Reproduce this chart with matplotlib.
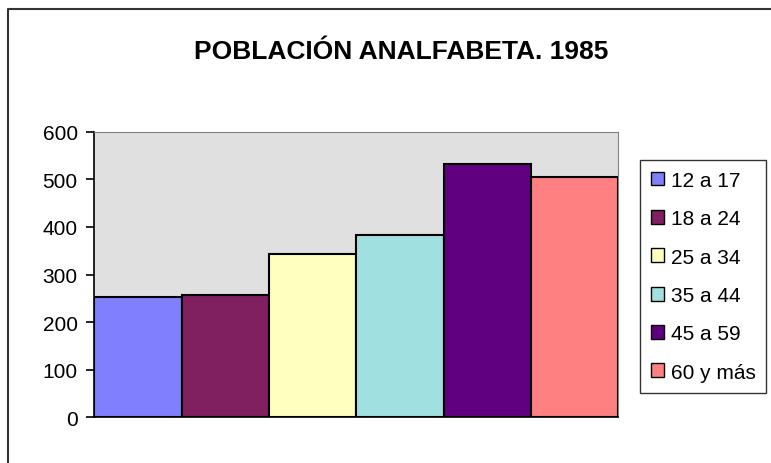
import matplotlib.pyplot as plt
from matplotlib.lines import Line2D
from matplotlib.patches import Patch

plt.rcParams['font.family'] = ['Liberation Sans', 'DejaVu Sans']

grupos = ['12 a 17', '18 a 24', '25 a 34', '35 a 44', '45 a 59', '60 y más']
valores = [252, 256, 344, 382, 533, 504]
colores = ['#8080FF', '#802060', '#FFFFC0', '#A0E0E0', '#600080', '#FF8080']
yticks = [0, 100, 200, 300, 400, 500, 600]

fig = plt.figure(figsize=(7.71, 4.64), dpi=100)
ax = fig.add_axes([94.3 / 771, 1 - 418.3 / 464, 524 / 771, 285.6 / 464])
ax.set_facecolor('#E0E0E0')

xs = range(len(grupos))
ax.bar(xs, valores, width=1.0, color=colores, edgecolor='black', linewidth=1.5, zorder=3)

ax.set_xlim(-0.5, len(grupos) - 0.5)
ax.set_ylim(0, 600)
ax.set_yticks(yticks)
ax.set_yticklabels([str(t) for t in yticks], fontsize=15)
ax.set_xticks([])
ax.tick_params(axis='y', direction='out', length=6, width=1.2, pad=6, color='black')

ax.spines['left'].set_color('black')
ax.spines['left'].set_linewidth(1.2)
ax.spines['bottom'].set_color('black')
ax.spines['bottom'].set_linewidth(1.2)
ax.spines['top'].set_color('#808080')
ax.spines['right'].set_color('#808080')

fig.text(401 / 771, 1 - 52 / 464, 'POBLACIÓN ANALFABETA. 1985', ha='center', va='center',
         fontsize=19, fontweight='bold')

handles = [Patch(facecolor=c, edgecolor='black', linewidth=1.0) for c in colores]
leg = fig.legend(handles, grupos, loc='upper left', bbox_to_anchor=(640 / 771, 1 - 161 / 464),
                 bbox_transform=fig.transFigure, fontsize=15, frameon=True, fancybox=False,
                 handlelength=0.65, handleheight=0.65, handletextpad=0.3, labelspacing=0.93,
                 borderpad=0.52, borderaxespad=0)
leg.get_frame().set_edgecolor('black')
leg.get_frame().set_linewidth(1.0)

# marco exterior del grafico
fig.add_artist(Line2D([8 / 771, 8 / 771, 1], [0, 1 - 10 / 464, 1 - 10 / 464],
                      transform=fig.transFigure, color='#333333', linewidth=1.5))

fig.savefig('out.png', dpi=100)
